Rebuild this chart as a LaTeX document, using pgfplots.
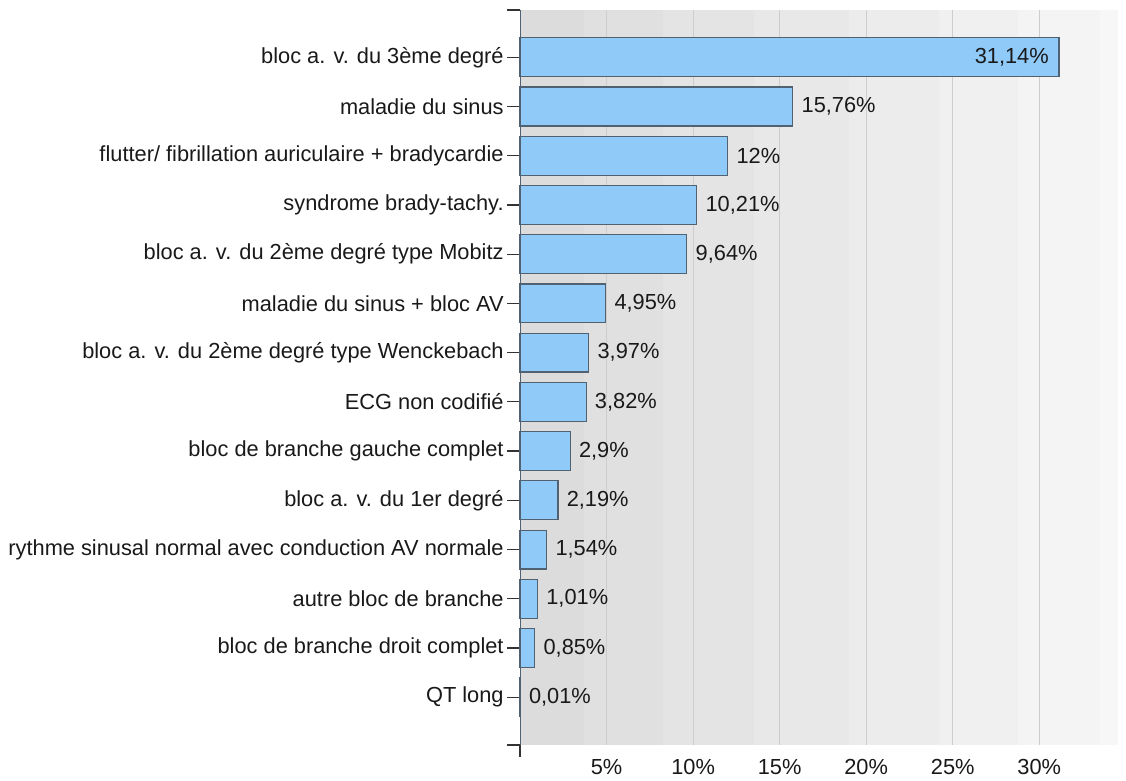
\documentclass[border=0pt]{standalone}
\usepackage{pgfplots}
\pgfplotsset{compat=1.18}
\usepackage{fontspec}
\setmainfont{Liberation Sans}
\definecolor{barfill}{RGB}{144,202,249}
\definecolor{baredge}{RGB}{80,98,114}
\definecolor{gridc}{RGB}{205,205,205}
\definecolor{txt}{RGB}{25,25,25}
\definecolor{b1}{RGB}{220,220,220}
\definecolor{b2}{RGB}{224,224,224}
\definecolor{b3}{RGB}{228,228,228}
\definecolor{b4}{RGB}{232,232,232}
\definecolor{b5}{RGB}{236,236,236}
\definecolor{b6}{RGB}{240,240,240}
\definecolor{b7}{RGB}{244,244,244}
\definecolor{b8}{RGB}{247,247,247}
\begin{document}
\begin{tikzpicture}[font=\fontsize{10.9}{13}\selectfont, text=txt]
\begin{axis}[
  name=ax,
  set layers,
  scale only axis,
  width=299pt, height=367.5pt,
  xmin=0, xmax=34.55,
  ymin=-0.96, ymax=13.97,
  y dir=reverse,
  xbar, bar width=0.79, bar shift=0pt,
  axis x line*=bottom, axis y line*=left,
  x axis line style={draw=none},
  y axis line style={draw=baredge, -},
  xtick={5,10,15,20,25,30},
  xticklabels={5\%,10\%,15\%,20\%,25\%,30\%},
  xmajorgrids, grid style={gridc, line width=0.5pt},
  major x tick style={draw=none},
  ytick={0,...,13},
  yticklabels={bloc a. v. du 3ème degré, maladie du sinus, flutter/ fibrillation auriculaire + bradycardie, syndrome brady-tachy., bloc a. v. du 2ème degré type Mobitz, maladie du sinus + bloc AV, bloc a. v. du 2ème degré type Wenckebach, ECG non codifié, bloc de branche gauche complet, bloc a. v. du 1er degré, rythme sinusal normal avec conduction AV normale, autre bloc de branche, bloc de branche droit complet, QT long},
  extra y ticks={-0.96,13.97}, extra y tick labels={},
  extra y tick style={major tick length=6.5pt, tick style={draw=black!80, line width=0.6pt}},
  major y tick style={draw=black!80, line width=0.6pt},
  major tick length=6.5pt,
  tick align=outside,
  yticklabel style={inner sep=1.5pt, text=txt},
  xticklabel style={text=txt, inner sep=0.5pt},
  clip=false,
]
\begin{pgfonlayer}{axis background}
\fill[b1] (axis cs:0,-0.96) rectangle (axis cs:3.72,13.97);
\fill[b2] (axis cs:3.72,-0.96) rectangle (axis cs:8.27,13.97);
\fill[b3] (axis cs:8.27,-0.96) rectangle (axis cs:13.5,13.97);
\fill[b4] (axis cs:13.5,-0.96) rectangle (axis cs:19.0,13.97);
\fill[b5] (axis cs:19.0,-0.96) rectangle (axis cs:24.2,13.97);
\fill[b6] (axis cs:24.2,-0.96) rectangle (axis cs:28.8,13.97);
\fill[b7] (axis cs:28.8,-0.96) rectangle (axis cs:33.5,13.97);
\fill[b8] (axis cs:33.5,-0.96) rectangle (axis cs:34.55,13.97);
\end{pgfonlayer}
\draw[black!80, line width=0.6pt] (axis cs:0,13.97) -- ([yshift=-6pt]axis cs:0,13.97);
\addplot[fill=barfill, draw=baredge, line width=0.6pt,
  point meta=explicit symbolic,
  nodes near coords={\pgfplotspointmeta\%},
  nodes near coords style={anchor=east, xshift=-1.5pt, text=txt}]
  table[x=v, y=i, meta=l] {
v i l
31.14 0 31,14
};
\addplot[fill=barfill, draw=baredge, line width=0.6pt,
  point meta=explicit symbolic,
  nodes near coords={\pgfplotspointmeta\%},
  nodes near coords style={anchor=west, xshift=0.8pt, text=txt}]
  table[x=v, y=i, meta=l] {
v i l
15.76 1 15,76
12 2 12
10.21 3 10,21
9.64 4 9,64
4.95 5 4,95
3.97 6 3,97
3.82 7 3,82
2.9 8 2,9
2.19 9 2,19
1.54 10 1,54
1.01 11 1,01
0.85 12 0,85
0.01 13 0,01
};
\end{axis}
\pgfresetboundingbox
\path[use as bounding box] ([shift={(-260pt,-18pt)}]ax.south west) rectangle ([shift={(303pt,372.5pt)}]ax.south west);
\end{tikzpicture}
\end{document}
